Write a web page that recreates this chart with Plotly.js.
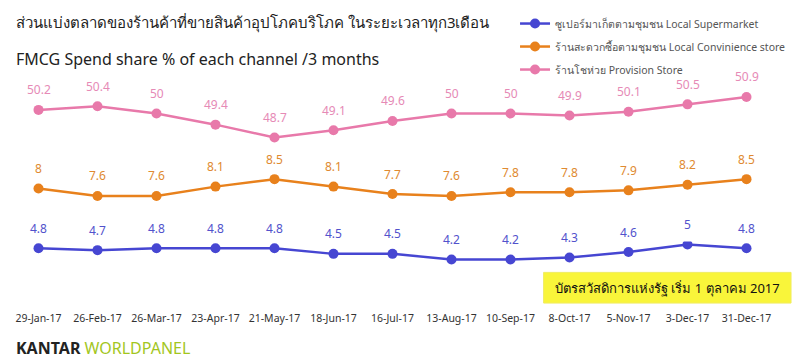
<!DOCTYPE html>
<html>
<head>
<meta charset="utf-8">
<script src="https://cdn.plot.ly/plotly-3.0.1.min.js"></script>
<style>html,body{margin:0;padding:0;background:#fff;}#chart{width:800px;height:362px;}</style>
</head>
<body>
<div id="chart"></div>
<script>
const categories = ["29-Jan-17","26-Feb-17","26-Mar-17","23-Apr-17","21-May-17","18-Jun-17","16-Jul-17","13-Aug-17","10-Sep-17","8-Oct-17","5-Nov-17","3-Dec-17","31-Dec-17"];
const supermarket = [4.8,4.7,4.8,4.8,4.8,4.5,4.5,4.2,4.2,4.3,4.6,5,4.8];
const convenience = [8,7.6,7.6,8.1,8.5,8.1,7.7,7.6,7.8,7.8,7.9,8.2,8.5];
const provision = [50.2,50.4,50,49.4,48.7,49.1,49.6,50,50,49.9,50.1,50.5,50.9];
const seriesNames = ["ซูเปอร์มาเก็ตตามชุมชน Local Supermarket","ร้านสะดวกซื้อตามชุมชน Local Convinience store","ร้านโชห่วย Provision Store"];

const font = '"Noto Sans", "Open Sans", sans-serif';
function mk(y, name, color, yaxis, grp) {
  return {
    x: categories, y: y, name: name, yaxis: yaxis, type: 'scatter',
    mode: 'lines+markers', legendgroup: grp,
    line: {color: color, width: 2.5},
    marker: {color: color, size: 10}
  };
}
const data = [
  mk(supermarket, seriesNames[0], '#4646d2', 'y', 'a'),
  mk(convenience, seriesNames[1], '#e8811c', 'y2', 'b'),
  mk(provision, seriesNames[2], '#e879aa', 'y3', 'c')
];
function labels(y, yref, color) {
  return y.map((v, i) => ({x: categories[i], y: v, xref: 'x', yref: yref, yshift: 20, showarrow: false,
    text: String(v), font: {size: 12, color: color}, xanchor: 'center', yanchor: 'middle'}));
}
const hid = {showgrid:false, zeroline:false, showticklabels:false, showline:false, ticks:''};
const layout = {
  width: 800, height: 362,
  margin: {l: 9, r: 24, t: 80, b: 52},
  paper_bgcolor: '#fff', plot_bgcolor: '#fff',
  font: {family: font, color: '#333'},
  showlegend: true,
  legend: {x: 1.0196, y: 1.32, xanchor: 'right', yanchor: 'top', font: {size: 10.5, color: '#555'}, bgcolor: 'rgba(0,0,0,0)', itemwidth: 30, tracegroupgap: 4},
  xaxis: {type: 'category', range: [-0.5, 12.5], showgrid: false, zeroline: false, showline: false, ticks: '', tickfont: {size: 10.5, color: '#333'}, tickangle: 0},
  yaxis: Object.assign({domain: [0, 0.3], range: [1.48, 5.16]}, hid),
  yaxis2: Object.assign({domain: [0.3, 0.6], range: [5.15, 8.82]}, hid),
  yaxis3: Object.assign({domain: [0.6, 1], range: [46.77, 51.71]}, hid),
  shapes: [{type: 'rect', xref: 'paper', yref: 'paper', x0: 0.697, x1: 1.0196, y0: 0.0304, y1: 0.165, fillcolor: '#f9f53a', line: {color: '#f0ec60', width: 1}, layer: 'below'}],
  annotations: [
    {xref: 'paper', yref: 'paper', x: 0.0065, y: 1.26, xanchor: 'left', yanchor: 'middle', showarrow: false, text: 'ส่วนแบ่งตลาดของร้านค้าที่ขายสินค้าอุปโภคบริโภค ในระยะเวลาทุก3เดือน', font: {size: 15, color: '#222'}},
    {xref: 'paper', yref: 'paper', x: 0.0065, y: 1.10, xanchor: 'left', yanchor: 'middle', showarrow: false, text: 'FMCG Spend share % of each channel /3 months', font: {size: 16, color: '#222'}},
    {xref: 'paper', yref: 'paper', x: 0.8584, y: 0.0957, xanchor: 'center', yanchor: 'middle', showarrow: false, text: 'บัตรสวัสดิการแห่งรัฐ เริ่ม 1 ตุลาคม 2017', font: {size: 13, color: '#111'}},
    {xref: 'paper', yref: 'paper', x: 0.0065, y: -0.165, xanchor: 'left', yanchor: 'middle', showarrow: false, text: '<b>KANTAR</b> <span style="color:#a3c61d">WORLDPANEL</span>', font: {size: 16, color: '#222'}}
  ].concat(labels(supermarket, 'y', '#5252cc'), labels(convenience, 'y2', '#e08a30'), labels(provision, 'y3', '#e68ab6'))
};
Plotly.newPlot('chart', data, layout, {displayModeBar: false, staticPlot: true});
</script>
</body>
</html>
